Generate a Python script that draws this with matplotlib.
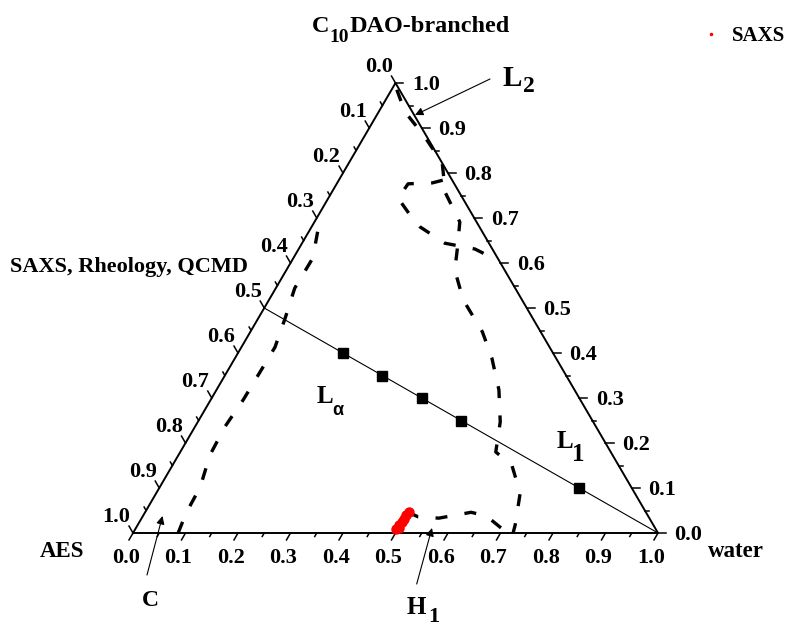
import numpy as np
import matplotlib
matplotlib.use("Agg")
import matplotlib.pyplot as plt
from matplotlib.lines import Line2D

plt.rcParams['font.family'] = ['Liberation Serif', 'DejaVu Serif']
plt.rcParams['font.weight'] = 'bold'

# --- data: compositions as (water, C10DAO) fractions, AES = rest ---
dil_water = [0.2, 0.3, 0.4, 0.5, 0.8]          # samples on the AES:C10DAO = 1:1 line
dil_dao = [0.4, 0.35, 0.3, 0.25, 0.1]

saxs_water = [0.497, 0.500, 0.498, 0.499, 0.501, 0.500, 0.503]
saxs_dao = [0.008, 0.012, 0.018, 0.025, 0.032, 0.040, 0.047]

# phase boundaries (dashed)
bA_water = [0.086, 0.079, 0.077, 0.060, 0.057, 0.062, 0.063, 0.064, 0.051, 0.036, 0.037, 0.014, 0.0]
bA_dao = [0.0, 0.044, 0.102, 0.173, 0.236, 0.296, 0.351, 0.413, 0.478, 0.544, 0.611, 0.678, 0.70]

bB_water = [0.010, 0.050, 0.116, 0.178, 0.217, 0.277, 0.303, 0.321, 0.370, 0.442, 0.489,
            0.538, 0.576, 0.601, 0.646, 0.693, 0.719, 0.724]
bB_dao = [0.985, 0.936, 0.880, 0.822, 0.756, 0.691, 0.629, 0.584, 0.518, 0.447, 0.389,
          0.318, 0.247, 0.180, 0.151, 0.089, 0.018, 0.0]

bC_water = [0.198, 0.181, 0.136, 0.133, 0.174, 0.207, 0.272, 0.336, 0.380]
bC_dao = [0.784, 0.778, 0.776, 0.744, 0.707, 0.680, 0.644, 0.631, 0.611]

bD_water = [0.499, 0.525, 0.566, 0.621, 0.654, 0.702, 0.709]
bD_dao = [0.047, 0.036, 0.033, 0.046, 0.038, 0.007, 0.0]

ticks = np.round(np.arange(0, 1.0001, 0.05), 2)

SQ3 = np.sqrt(3) / 2
PX, PY = 525.0, 519.6   # pixels per unit in x / y


def tern(w, d):
    w = np.asarray(w, float)
    d = np.asarray(d, float)
    return w + d / 2, d * SQ3


def off(x, y, dx, dy):
    # shift by pixels (dy positive = down)
    return x + dx / PX, y - dy / PY


def pxy(px, py):
    return (px - 133) / PX, (533 - py) / PY


fig = plt.figure(figsize=(7.91, 6.28), dpi=100)
ax = fig.add_axes([0, 0, 1, 1])
ax.set_xlim(-133 / PX, 658 / PX)
ax.set_ylim(-95 / PY, 533 / PY)
ax.axis('off')

# triangle
tx, ty = tern([0, 1, 0, 0], [0, 0, 1, 0])
ax.plot(tx, ty, color='black', lw=1.4, solid_joinstyle='miter')

# ticks and tick labels
for v in ticks:
    major = int(round(v * 20)) % 2 == 0
    L = 8 if major else 4
    # bottom: water
    x0, y0 = tern(v, 0)
    x1, y1 = off(x0, y0, -0.5 * L, 0.866 * L)
    ax.plot([x0, x1], [y0, y1], color='black', lw=1.1)
    if major:
        lx, ly = off(x0, y0, -7, 30)
        ax.text(lx, ly, f"{v:.1f}", ha='center', va='baseline', fontsize=16)
    # left: AES
    x0, y0 = tern(0, 1 - v)
    x1, y1 = off(x0, y0, -0.5 * L, -0.866 * L)
    ax.plot([x0, x1], [y0, y1], color='black', lw=1.1)
    if major:
        lx, ly = off(x0, y0, -16.5, -11)
        ax.text(lx, ly, f"{v:.1f}", ha='center', va='baseline', fontsize=16)
    # right: C10DAO
    x0, y0 = tern(1 - v, v)
    x1, y1 = off(x0, y0, L, 0)
    ax.plot([x0, x1], [y0, y1], color='black', lw=1.1)
    if major:
        lx, ly = off(x0, y0, 30.5, 7)
        ax.text(lx, ly, f"{v:.1f}", ha='center', va='baseline', fontsize=16)

# dilution line AES:C10DAO = 1:1 towards water
lx_, ly_ = tern([0, 1], [0.5, 0])
ax.plot(lx_, ly_, color='black', lw=0.8)
sx, sy = tern(dil_water, dil_dao)
ax.plot(sx, sy, 's', color='black', ms=6.5, ls='none')

# phase boundaries
dash = (0, (3.6, 5.2))
for w, d in [(bA_water, bA_dao), (bB_water, bB_dao), (bC_water, bC_dao), (bD_water, bD_dao)]:
    x, y = tern(w, d)
    ax.plot(x, y, color='black', lw=2.4, ls=dash)

# SAXS points
rx, ry = tern(saxs_water, saxs_dao)
ax.plot(rx, ry, 'o', color='red', ms=6.5, ls='none', zorder=5)


def ptext(px, py, s, size, **kw):
    x, y = pxy(px, py)
    ax.text(x, y, s, fontsize=size, ha='left', va='baseline', **kw)


# axis titles
ptext(311.7, 32, 'C', 17.5)
ptext(329.5, 42, '10', 14)
ptext(350, 32, 'DAO-branched', 17.5)
ptext(10, 272, 'SAXS, Rheology, QCMD', 16)
ptext(40, 557, 'AES', 16.5)
ptext(708, 557, 'water', 16.5)

# phase labels
ptext(503, 86, 'L', 21)
ptext(523, 92, '2', 17)
ptext(317, 403, 'L', 18)
ptext(332, 415, 'α', 13, family='Liberation Sans')
ptext(557, 448, 'L', 18)
ptext(572, 461, '1', 18)
ptext(142, 606, 'C', 17)
ptext(407, 614, 'H', 18)
ptext(428, 622, '1', 16)

arrow = dict(arrowstyle='-|>', color='black', lw=0.8, mutation_scale=12, shrinkA=0, shrinkB=0)
ax.annotate('', xy=pxy(415, 115), xytext=pxy(490, 79), arrowprops=arrow)
ax.annotate('', xy=pxy(162.5, 516), xytext=pxy(147, 575), arrowprops=arrow)
ax.annotate('', xy=pxy(432, 528), xytext=pxy(416.7, 584), arrowprops=arrow)

# legend
h = Line2D([], [], marker='o', color='red', ls='none', ms=1.5)
fig.legend(handles=[h], labels=['SAXS'], loc='center left',
           bbox_to_anchor=(700.5 / 791, 1 - 36 / 628), frameon=False,
           handlelength=1, handletextpad=0.5, borderpad=0, borderaxespad=0,
           prop={'family': 'Liberation Serif', 'weight': 'bold', 'size': 15})

fig.savefig('out.png', dpi=100)
